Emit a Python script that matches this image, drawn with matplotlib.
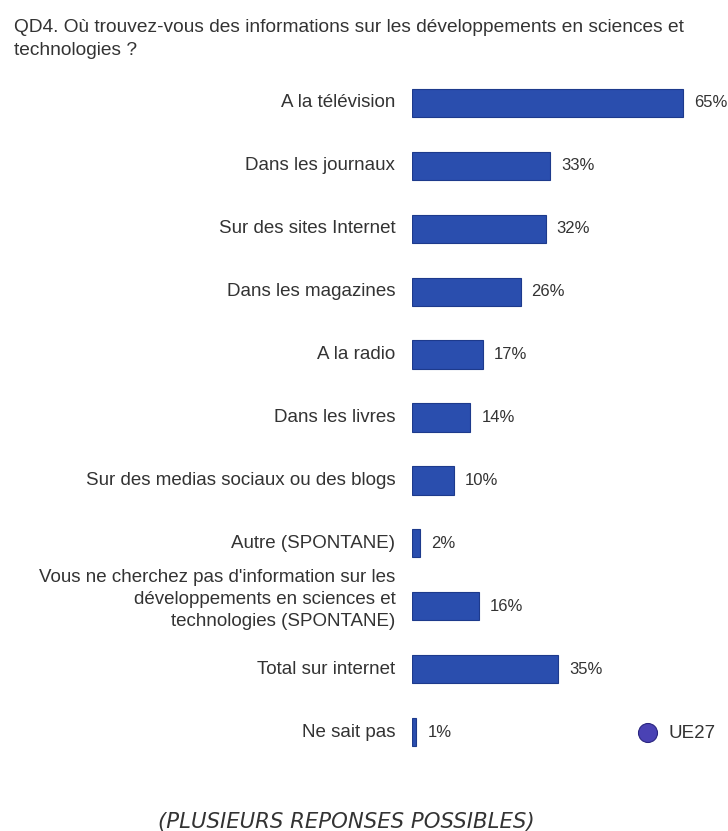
import matplotlib
matplotlib.use("Agg")
import matplotlib.pyplot as plt
from matplotlib.patches import Circle

plt.rcParams["font.family"] = ["Liberation Sans", "DejaVu Sans"]

categories = [
    "A la télévision",
    "Dans les journaux",
    "Sur des sites Internet",
    "Dans les magazines",
    "A la radio",
    "Dans les livres",
    "Sur des medias sociaux ou des blogs",
    "Autre (SPONTANE)",
    "Vous ne cherchez pas d'information sur les\ndéveloppements en sciences et\ntechnologies (SPONTANE)",
    "Total sur internet",
    "Ne sait pas",
]
values = [65, 33, 32, 26, 17, 14, 10, 2, 16, 35, 1]
series_name = "UE27"

BAR = "#2a4eae"
EDGE = "#1d3a8c"
TEXT = "#333333"

W, H = 728, 831
fig = plt.figure(figsize=(W / 100, H / 100), dpi=100)
fig.patch.set_facecolor("white")

# axes placed in pixel terms: bars start at x=412, rows from y=71 to y=764
left, right = 412, 725
top, bottom = 71.5, 763.5
ax = fig.add_axes([left / W, 1 - bottom / H, (right - left) / W, (bottom - top) / H])
ax.set_xlim(0, 75)
ax.set_ylim(len(values) - 0.5, -0.5)
ax.axis("off")

ys = range(len(values))
ax.barh(ys, values, height=0.45, color=BAR, edgecolor=EDGE, linewidth=0.8)

for y, v, lab in zip(ys, values, categories):
    ax.annotate(f"{v}%", (v, y), xytext=(8, 0), textcoords="offset points",
                ha="left", va="center", fontsize=12, color=TEXT)
    # wrapped labels sit a little above their bar
    lift = 2.5 * lab.count("\n")
    ax.annotate(lab, (0, y), xytext=(-12, lift), textcoords="offset points",
                ha="right", va="center", fontsize=13.5, color=TEXT,
                multialignment="right", linespacing=1.4)

# legend marker
fig.patches.append(Circle((6.48, (H - 733) / 100), 0.095,
                          transform=fig.dpi_scale_trans,
                          facecolor="#4a42b4", edgecolor="#2a2580", linewidth=0.8))
fig.text(668 / W, 1 - 733 / H, series_name, ha="left", va="center",
         fontsize=13.5, color=TEXT)

fig.text(14 / W, 1 - 39 / H,
         "QD4. Où trouvez-vous des informations sur les développements en sciences et\ntechnologies ?",
         ha="left", va="center", fontsize=13.8, color=TEXT, linespacing=1.45)

fig.text(346 / W, 1 - 822 / H, "(PLUSIEURS REPONSES POSSIBLES)",
         ha="center", va="center", fontsize=15.3, style="italic",
         family="DejaVu Sans", color="#333333")

fig.savefig("out.png", dpi=100, facecolor="white")
